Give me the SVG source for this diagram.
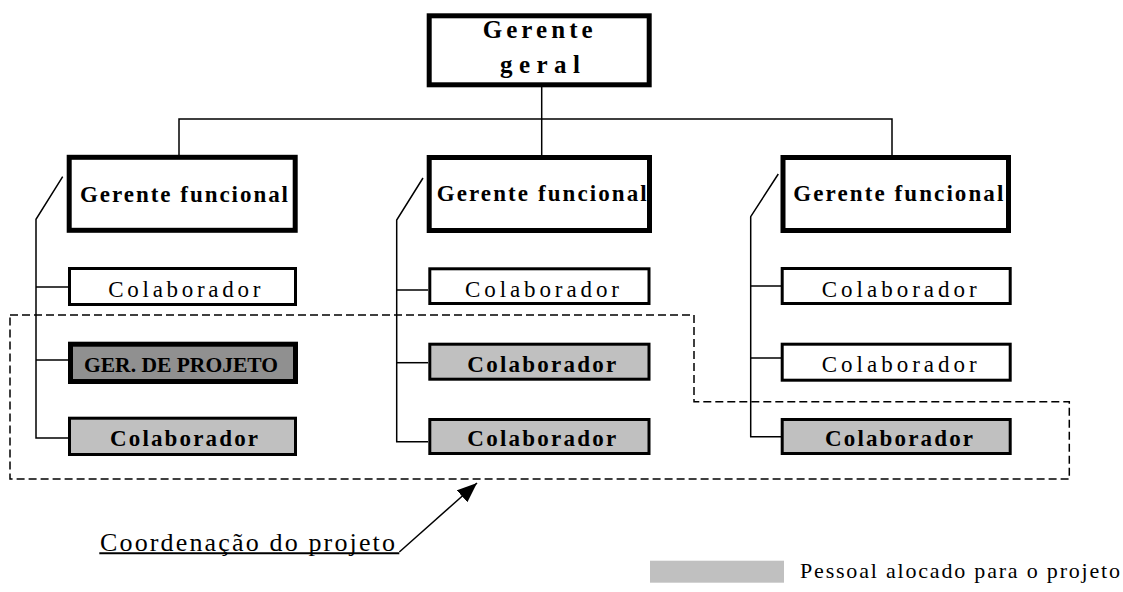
<svg xmlns="http://www.w3.org/2000/svg" width="1123" height="592" viewBox="0 0 1123 592">
  <style>
    .heavy { fill: #ffffff; stroke: #000000; stroke-width: 5; }
    .plain { fill: #ffffff; stroke: #000000; stroke-width: 3; }
    .alloc { fill: #c0c0c0; stroke: #000000; stroke-width: 3; }
    .pm { fill: #909090; stroke: #000000; stroke-width: 5; }
    .link { fill: none; stroke: #000000; stroke-width: 1.5; }
    .scope { fill: none; stroke: #000000; stroke-width: 1.5; stroke-dasharray: 8 4; }
    .lbl { font-family: "Liberation Serif", "Times New Roman", serif; fill: #000000; }
    .bold { font-weight: bold; }
  </style>
  <defs>
    <marker id="arrowhead" markerWidth="20" markerHeight="16" refX="20" refY="8" orient="auto" markerUnits="userSpaceOnUse" viewBox="0 0 20 16">
      <path d="M0,0 L20,8 L0,16 Z" fill="#000000"/>
    </marker>
  </defs>

  <!-- connectors -->
  <g id="connectors">
    <!-- top level -->
    <polyline class="link" points="541.7,87 541.7,155"/>
    <polyline class="link" points="179,155 179,119 892,119 892,155"/>
    <!-- column 1 -->
    <polyline class="link" points="62.7,176.7 36,219.3 36,438 68,438"/>
    <line class="link" x1="36" y1="287" x2="68" y2="287"/>
    <line class="link" x1="36" y1="360" x2="68" y2="360"/>
    <!-- column 2 -->
    <polyline class="link" points="423,178 396.7,220 396.7,441.7 428,441.7"/>
    <line class="link" x1="396.7" y1="290" x2="428" y2="290"/>
    <line class="link" x1="396.7" y1="362.7" x2="428" y2="362.7"/>
    <!-- column 3 -->
    <polyline class="link" points="778.3,174 750.7,216.7 750.7,436.7 781,436.7"/>
    <line class="link" x1="750.7" y1="286" x2="781" y2="286"/>
    <line class="link" x1="750.7" y1="358" x2="781" y2="358"/>
    <!-- project coordination boundary -->
    <path class="scope" d="M10,315 L694,315 L694,401.7 L1069.3,401.7 L1069.3,479 L10,479 Z"/>
    <!-- callout -->
    <line x1="399.3" y1="552" x2="477" y2="483" stroke="#000000" stroke-width="1.5" marker-end="url(#arrowhead)"/>
    <line x1="99.3" y1="553.3" x2="399.3" y2="553.3" stroke="#000000" stroke-width="2"/>
  </g>

  <!-- general manager -->
  <g id="gerente-geral">
    <rect class="heavy" x="429.2" y="15.8" width="220" height="69"/>
    <text class="lbl bold" font-size="25" x="482.7" y="38" textLength="110" lengthAdjust="spacing">Gerente</text>
    <text class="lbl bold" font-size="25" x="500" y="73" textLength="80" lengthAdjust="spacing">geral</text>
  </g>

  <!-- column 1 -->
  <g id="gerente-funcional-1">
    <rect class="heavy" x="69.2" y="157.3" width="226" height="73"/>
    <text class="lbl bold" font-size="23" x="80" y="201.7" textLength="208" lengthAdjust="spacing">Gerente funcional</text>
  </g>
  <g id="colaborador-1a">
    <rect class="plain" x="69.5" y="268.5" width="226" height="36"/>
    <text class="lbl" font-size="23" x="108.3" y="296.7" textLength="152" lengthAdjust="spacing">Colaborador</text>
  </g>
  <g id="gerente-projeto">
    <rect class="pm" x="70.5" y="344.2" width="225" height="37.3"/>
    <text class="lbl bold" font-size="22" x="84" y="371.7" textLength="194" lengthAdjust="spacingAndGlyphs">GER. DE PROJETO</text>
  </g>
  <g id="colaborador-1b">
    <rect class="alloc" x="69.5" y="418.2" width="226" height="36.3"/>
    <text class="lbl bold" font-size="23" x="110" y="446" textLength="148" lengthAdjust="spacing">Colaborador</text>
  </g>

  <!-- column 2 -->
  <g id="gerente-funcional-2">
    <rect class="heavy" x="429.2" y="157.5" width="220.3" height="73"/>
    <text class="lbl bold" font-size="23" x="436.7" y="200.7" textLength="210" lengthAdjust="spacing">Gerente funcional</text>
  </g>
  <g id="colaborador-2a">
    <rect class="plain" x="429.8" y="268.8" width="219.2" height="34.7"/>
    <text class="lbl" font-size="23" x="465" y="296.7" textLength="154" lengthAdjust="spacing">Colaborador</text>
  </g>
  <g id="colaborador-2b">
    <rect class="alloc" x="429.8" y="344.2" width="219.2" height="35"/>
    <text class="lbl bold" font-size="23" x="467.3" y="371.7" textLength="149" lengthAdjust="spacing">Colaborador</text>
  </g>
  <g id="colaborador-2c">
    <rect class="alloc" x="429.8" y="419.5" width="219.2" height="34"/>
    <text class="lbl bold" font-size="23" x="467.3" y="446" textLength="149" lengthAdjust="spacing">Colaborador</text>
  </g>

  <!-- column 3 -->
  <g id="gerente-funcional-3">
    <rect class="heavy" x="783" y="157.5" width="225.5" height="73"/>
    <text class="lbl bold" font-size="23" x="793.3" y="200.7" textLength="210" lengthAdjust="spacing">Gerente funcional</text>
  </g>
  <g id="colaborador-3a">
    <rect class="plain" x="782.2" y="268.5" width="228" height="35"/>
    <text class="lbl" font-size="23" x="821.7" y="296.7" textLength="155" lengthAdjust="spacing">Colaborador</text>
  </g>
  <g id="colaborador-3b">
    <rect class="plain" x="782.2" y="344.2" width="228" height="36"/>
    <text class="lbl" font-size="23" x="821.7" y="371.7" textLength="155" lengthAdjust="spacing">Colaborador</text>
  </g>
  <g id="colaborador-3c">
    <rect class="alloc" x="782.2" y="419.5" width="228" height="34"/>
    <text class="lbl bold" font-size="23" x="825" y="446" textLength="148" lengthAdjust="spacing">Colaborador</text>
  </g>

  <!-- callout label -->
  <g id="coordenacao">
    <text class="lbl" font-size="26" x="100" y="550.7" textLength="295" lengthAdjust="spacing">Coordenação do projeto</text>
  </g>

  <!-- legend -->
  <g id="legenda">
    <rect x="650" y="560.7" width="134" height="22" fill="#c0c0c0"/>
    <text class="lbl" font-size="22" x="800" y="578" textLength="320" lengthAdjust="spacing">Pessoal alocado para o projeto</text>
  </g>
</svg>
